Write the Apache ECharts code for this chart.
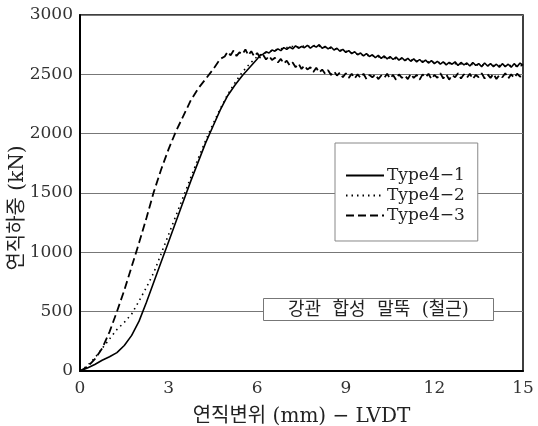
<!DOCTYPE html>
<html>
<head>
<meta charset="utf-8">
<script src="https://cdn.jsdelivr.net/npm/echarts@6/dist/echarts.min.js"></script>
<style>
  html, body { margin: 0; padding: 0; background: #fff; }
  #chart { width: 538px; height: 426px; }
</style>
</head>
<body>
<div id="chart"></div>
<script>
const serif = '"DejaVu Serif", "Noto Sans CJK KR", serif';

const seriesNames = ['Type4-1', 'Type4-2', 'Type4-3'];
const xTicks = [0, 3, 6, 9, 12, 15];

// rising part (mm, kN)
const riseX1 = [0, 0.25, 0.5, 0.75, 1.0, 1.25, 1.5, 1.75, 2.0, 2.25, 2.5, 2.75, 3.0, 3.25, 3.5, 3.75, 4.0, 4.25, 4.5, 4.75, 5.0, 5.25, 5.5, 5.75, 6.0, 6.1];
const riseY1 = [0, 25, 55, 90, 120, 155, 215, 300, 420, 580, 750, 920, 1090, 1260, 1430, 1600, 1760, 1920, 2060, 2200, 2320, 2410, 2490, 2560, 2630, 2660];

const riseX2 = [0, 0.25, 0.5, 0.75, 1.0, 1.25, 1.5, 1.75, 2.0, 2.25, 2.5, 2.75, 3.0, 3.25, 3.5, 3.75, 4.0, 4.25, 4.5, 4.75, 5.0, 5.25, 5.5, 5.75, 6.0];
const riseY2 = [0, 45, 110, 190, 270, 350, 410, 480, 590, 705, 830, 990, 1150, 1310, 1470, 1630, 1790, 1940, 2080, 2210, 2330, 2430, 2520, 2590, 2650];

const riseX3 = [0, 0.25, 0.5, 0.75, 1.0, 1.25, 1.5, 1.75, 2.0, 2.25, 2.5, 2.75, 3.0, 3.25, 3.5, 3.75, 4.0, 4.25, 4.5, 4.75];
const riseY3 = [0, 35, 100, 190, 330, 500, 680, 880, 1080, 1290, 1510, 1700, 1870, 2020, 2150, 2280, 2380, 2460, 2540, 2630];

// noisy plateau, sampled every 0.1 mm (Type4-2 every 0.2 mm)
const plat1 = [2670, 2690, 2680, 2705, 2695, 2715, 2700, 2725, 2710, 2730,
  2715, 2740, 2720, 2735, 2725, 2745, 2720, 2740, 2730, 2750,
  2720, 2735, 2715, 2730, 2705, 2720, 2695, 2710, 2685, 2700,
  2675, 2690, 2665, 2680, 2655, 2675, 2650, 2665, 2640, 2660,
  2635, 2655, 2630, 2650, 2625, 2645, 2620, 2640, 2615, 2635,
  2610, 2630, 2605, 2625, 2600, 2620, 2595, 2615, 2590, 2610,
  2585, 2605, 2580, 2600, 2585, 2605, 2575, 2600, 2580, 2595,
  2570, 2600, 2575, 2590, 2565, 2595, 2570, 2590, 2565, 2585,
  2560, 2590, 2565, 2585, 2560, 2590, 2565, 2595, 2575];
const plat2 = [2675, 2690, 2705, 2715, 2725, 2735, 2730, 2740, 2735, 2745,
  2730, 2725, 2715, 2705, 2695, 2680, 2670, 2660, 2660, 2650,
  2645, 2640, 2635, 2630, 2625, 2620, 2615, 2610, 2605, 2600,
  2600, 2595, 2590, 2590, 2585, 2585, 2580, 2580, 2575, 2575,
  2575, 2570, 2575, 2570, 2575];
const plat3 = [2650, 2690, 2660, 2700, 2655, 2685, 2670, 2710, 2660, 2695,
  2650, 2680, 2640, 2665, 2625, 2655, 2620, 2640, 2600, 2630,
  2590, 2615, 2575, 2600, 2560, 2590, 2545, 2575, 2540, 2560,
  2520, 2555, 2515, 2540, 2505, 2535, 2495, 2525, 2490, 2515,
  2475, 2510, 2470, 2505, 2465, 2500, 2470, 2505, 2460, 2495,
  2475, 2500, 2460, 2490, 2470, 2505, 2465, 2495, 2455, 2500,
  2470, 2490, 2460, 2505, 2470, 2495, 2455, 2500, 2475, 2505,
  2460, 2495, 2470, 2510, 2465, 2500, 2455, 2495, 2475, 2510,
  2465, 2500, 2470, 2505, 2460, 2495, 2475, 2510, 2465, 2500,
  2470, 2505, 2460, 2495, 2475, 2510, 2465, 2500, 2470, 2505,
  2480, 2495];

function build(rx, ry, start, step, plat) {
  const pts = rx.map((x, i) => [x, ry[i]]);
  plat.forEach((v, i) => pts.push([+(start + i * step).toFixed(2), v]));
  return pts;
}

const data1 = build(riseX1, riseY1, 6.2, 0.1, plat1);
const data2 = build(riseX2, riseY2, 6.2, 0.2, plat2);
const data3 = build(riseX3, riseY3, 4.9, 0.1, plat3);

const chart = echarts.init(document.getElementById('chart'));

const option = {
  animation: false,
  backgroundColor: '#fff',
  grid: {
    left: 80, right: 15, top: 15, bottom: 55,
    containLabel: false,
    outerBoundsMode: 'none',
    show: true, borderColor: '#000', borderWidth: 1.5
  },
  title: {
    text: '강관  합성  말뚝  (철근)',
    left: 263, top: 298,
    padding: [3, 25, 2, 25],
    backgroundColor: '#fff',
    borderColor: '#777',
    borderWidth: 1,
    textStyle: { fontFamily: serif, fontSize: 18, fontWeight: 'normal', color: '#222' }
  },
  legend: {
    data: seriesNames,
    orient: 'vertical',
    left: 335, top: 143,
    padding: [24, 13, 17, 10],
    itemGap: 3,
    itemWidth: 38,
    itemHeight: 14,
    backgroundColor: '#fff',
    borderColor: '#888',
    borderWidth: 1,
    itemStyle: { opacity: 0 },
    formatter: (name) => name.replace('-', '−'),
    textStyle: { fontFamily: serif, fontSize: 17, color: '#222', padding: [0, 0, 0, -2] }
  },
  xAxis: {
    type: 'value',
    min: 0, max: 15, interval: 3,
    name: '연직변위 (mm) − LVDT',
    nameLocation: 'middle',
    nameGap: 36,
    nameTextStyle: { fontFamily: serif, fontSize: 20, color: '#222' },
    axisLine: { show: true, lineStyle: { color: '#000', width: 2 } },
    axisTick: { show: false },
    splitLine: { show: false },
    axisLabel: {
      fontFamily: serif, fontSize: 17, color: '#333', margin: 9,
      formatter: (v) => (xTicks.includes(v) ? String(v) : '')
    }
  },
  yAxis: {
    type: 'value',
    min: 0, max: 3000, interval: 500,
    name: '연직하중 (kN)',
    nameLocation: 'middle',
    nameGap: 52,
    nameMoveOverlap: false,
    nameTextStyle: { fontFamily: serif, fontSize: 20, color: '#222', padding: [0, 30, 0, 0] },
    axisLine: { show: true, lineStyle: { color: '#000', width: 2 } },
    axisTick: { show: false },
    splitLine: { show: true, lineStyle: { color: '#777', width: 1 } },
    axisLabel: {
      fontFamily: serif, fontSize: 17, color: '#333', margin: 7,
      formatter: (v) => String(v)
    }
  },
  series: [
    {
      name: seriesNames[0], type: 'line', data: data1,
      symbol: 'none', z: 3,
      lineStyle: { color: '#000', width: 1.6, type: 'solid' },
      itemStyle: { color: '#000' }
    },
    {
      name: seriesNames[1], type: 'line', data: data2,
      symbol: 'none', z: 4,
      lineStyle: { color: '#000', width: 1.6, type: [1.5, 4] },
      itemStyle: { color: '#000' }
    },
    {
      name: seriesNames[2], type: 'line', data: data3,
      symbol: 'none', z: 5,
      lineStyle: { color: '#000', width: 1.8, type: [8, 4] },
      itemStyle: { color: '#000' }
    }
  ]
};

chart.setOption(option);
</script>
</body>
</html>
